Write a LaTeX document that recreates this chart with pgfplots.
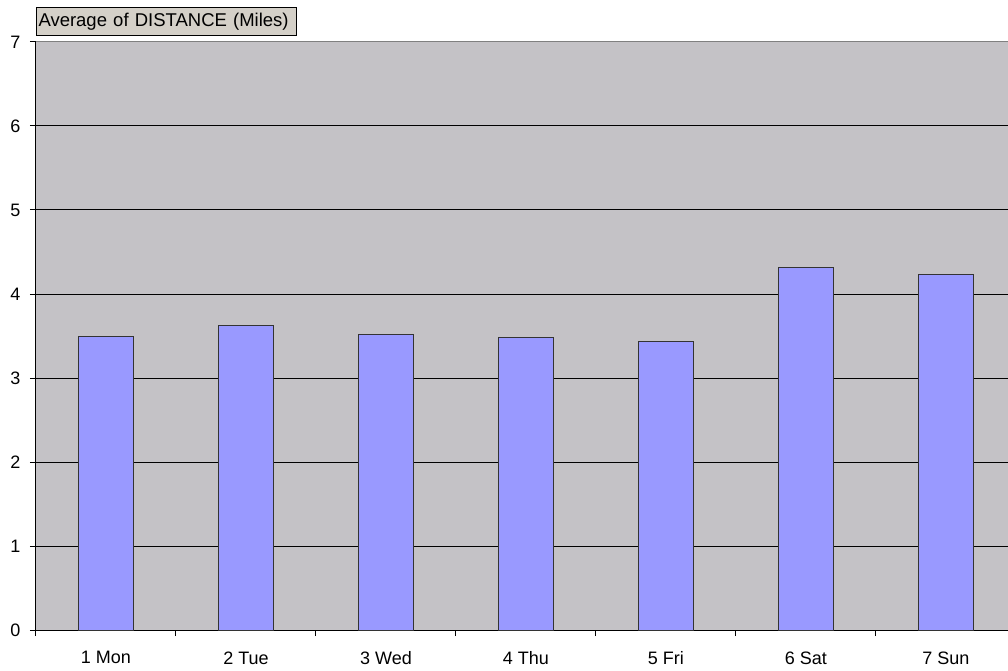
\documentclass[border=0pt]{standalone}
\usepackage{pgfplots}
\pgfplotsset{compat=1.18}
\usepackage{fontspec}
\setmainfont{Liberation Sans}
\definecolor{plotbg}{RGB}{196,194,198}
\definecolor{barfill}{RGB}{153,153,255}
\definecolor{boxfill}{RGB}{212,208,200}
\begin{document}
\begin{tikzpicture}[x=1pt,y=1pt]
\useasboundingbox (0,0) rectangle (1008,670);
\begin{axis}[
  at={(36pt,40pt)}, anchor=south west,
  scale only axis, width=972pt, height=588pt,
  xmin=-0.5, xmax=6.443, ymin=0, ymax=7,
  axis background/.style={fill=plotbg},
  axis x line*=bottom, axis y line*=left,
  axis line style={-, black, line width=1pt},
  ytick={0,1,...,7},
  ymajorgrids, major grid style={black, line width=1pt},
  xtick={-0.5,0.5,...,5.5},
  xticklabels={},
  extra x ticks={0,...,6},
  extra x tick labels={1 Mon,2 Tue,3 Wed,4 Thu,5 Fri,6 Sat,7 Sun},
  extra x tick style={major tick length=0pt, xticklabel style={yshift=-18pt}},
  tick align=outside,
  major tick length=6pt,
  tick style={draw=black, line width=1pt},
  /pgf/number format/assume math mode=true,
  tick label style={font=\fontsize{18}{21}\selectfont},
  yticklabel style={xshift=-6pt},
  ybar, bar width=55pt,
  clip=false,
]
\addplot[fill=barfill, draw=black!80, line width=1pt] coordinates {
  (0,3.50) (1,3.63) (2,3.52) (3,3.48) (4,3.44) (5,4.31) (6,4.23)
};
\draw[black!50, line width=1pt] (rel axis cs:0,1) -- (rel axis cs:1,1);
\end{axis}
\node[anchor=south west, draw=black, line width=1pt, fill=boxfill, inner sep=2pt,
  minimum height=28pt, text width=256pt, align=left, font=\fontsize{18.5}{21}\selectfont]
  at (36,634) {Average of DISTANCE (Miles)};
\end{tikzpicture}
\end{document}
